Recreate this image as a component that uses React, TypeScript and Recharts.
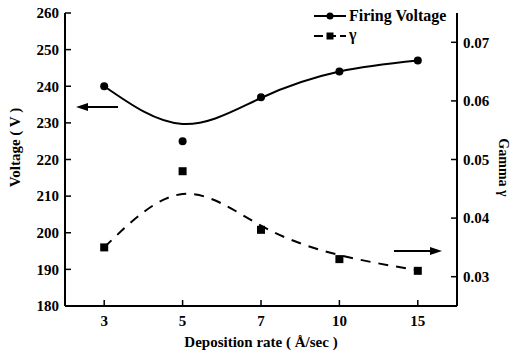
import { LineChart, Line, XAxis, YAxis, Legend } from 'recharts'

const categories = ['3', '5', '7', '10', '15']
const voltage = [240, 225, 237, 244, 247]
const voltageFit = [240, 229.7, 236.8, 244, 247]
const gamma = [0.035, 0.048, 0.038, 0.033, 0.031]
const gammaFit = [0.035, 0.0441, 0.0387, 0.0337, 0.0311]
const voltageTicks = [180, 190, 200, 210, 220, 230, 240, 250, 260]
const gammaTicks = [0.03, 0.04, 0.05, 0.06, 0.07]

const FONT = '"Liberation Serif", "Times New Roman", "DejaVu Serif", serif'

const data = categories.map((rate, i) => ({
  rate,
  voltage: voltage[i],
  voltageFit: voltageFit[i],
  gamma: gamma[i],
  gammaFit: gammaFit[i],
}))

const textStyle = { fontFamily: FONT, fontWeight: 700, fontSize: 15, fill: '#000' }

function LeftTick({ x, y, payload }: any) {
  return (
    <g>
      <line x1={x} x2={x + 6} y1={y} y2={y} stroke="#000" strokeWidth={1.5} />
      <text x={x - 6} y={y} dy="0.35em" textAnchor="end" style={textStyle}>{payload.value}</text>
    </g>
  )
}

function RightTick({ x, y, payload }: any) {
  return (
    <g>
      <line x1={x} x2={x - 6} y1={y} y2={y} stroke="#000" strokeWidth={1.5} />
      <text x={x + 6} y={y} dy="0.35em" textAnchor="start" style={textStyle}>
        {Number(payload.value).toFixed(2)}
      </text>
    </g>
  )
}

function BottomTick({ x, y, payload }: any) {
  return (
    <g>
      <line x1={x} x2={x} y1={y} y2={y - 6} stroke="#000" strokeWidth={1.5} />
      <text x={x} y={y + 20} textAnchor="middle" style={textStyle}>{payload.value}</text>
    </g>
  )
}

function SquareDot({ cx, cy, index }: any) {
  return <rect key={`sq-${index}`} x={cx - 4} y={cy - 4} width={8} height={8} fill="#000" />
}

// legend drawn by hand: solid line + circle, dashed line + square
function LegendBox() {
  return (
    <svg width={145} height={42} style={{ display: 'block' }}>
      <line x1={2} x2={34} y1={10} y2={10} stroke="#000" strokeWidth={2} />
      <circle cx={18} cy={10} r={3.5} fill="#000" />
      <text x={37} y={15} style={{ ...textStyle, fontSize: 16 }}>Firing Voltage</text>
      <line x1={2} x2={34} y1={30} y2={30} stroke="#000" strokeWidth={2} strokeDasharray="9 4" />
      <rect x={14.5} y={26.5} width={7} height={7} fill="#000" />
      <text x={37} y={34} style={{ ...textStyle, fontSize: 16 }}>γ</text>
    </svg>
  )
}

export default function App() {
  return (
    <div style={{ position: 'absolute', left: 0, top: 0, width: 513, height: 357, background: '#fff', fontFamily: FONT }}>
      <LineChart width={513} height={357} data={data} margin={{ top: 13, right: 0, left: 0, bottom: 0 }}>
        <XAxis
          dataKey="rate"
          scale="band"
          height={51}
          interval={0}
          tickSize={0}
          tickMargin={0}
          tickLine={false}
          tick={<BottomTick />}
          axisLine={{ stroke: '#000', strokeWidth: 2 }}
          label={{ value: 'Deposition rate ( Å/sec )', position: 'center', dy: 10, style: textStyle }}
        />
        <XAxis
          xAxisId="top"
          dataKey="rate"
          scale="band"
          orientation="top"
          height={0}
          tick={false}
          tickLine={false}
          axisLine={{ stroke: '#000', strokeWidth: 2 }}
        />
        <YAxis
          yAxisId="left"
          width={65}
          domain={[180, 260]}
          ticks={voltageTicks}
          interval={0}
          tickSize={0}
          tickMargin={0}
          tickLine={false}
          tick={<LeftTick />}
          axisLine={{ stroke: '#000', strokeWidth: 2 }}
          label={{ value: 'Voltage ( V )', angle: -90, position: 'center', dx: -18, dy: -12, style: textStyle }}
        />
        <YAxis
          yAxisId="right"
          orientation="right"
          width={56}
          domain={[0.025, 0.075]}
          ticks={gammaTicks}
          interval={0}
          tickSize={0}
          tickMargin={0}
          tickLine={false}
          tick={<RightTick />}
          axisLine={{ stroke: '#000', strokeWidth: 2 }}
          label={{ value: 'Gamma γ', angle: 90, position: 'center', dx: 19, dy: 8, style: { ...textStyle, fontSize: 14 } }}
        />
        <Legend
          layout="horizontal"
          verticalAlign="middle"
          align="center"
          content={<LegendBox />}
          wrapperStyle={{ top: 6, left: 312, width: 145 }}
        />
        <Line
          yAxisId="left"
          type="natural"
          dataKey="voltageFit"
          stroke="#000"
          strokeWidth={2}
          dot={false}
          isAnimationActive={false}
        />
        <Line
          yAxisId="left"
          dataKey="voltage"
          stroke="none"
          dot={{ r: 4, fill: '#000', stroke: '#000', strokeWidth: 0 }}
          isAnimationActive={false}
        />
        <Line
          yAxisId="right"
          type="natural"
          dataKey="gammaFit"
          stroke="#000"
          strokeWidth={2}
          strokeDasharray="10 8"
          dot={false}
          isAnimationActive={false}
        />
        <Line
          yAxisId="right"
          dataKey="gamma"
          stroke="none"
          dot={<SquareDot />}
          isAnimationActive={false}
        />
      </LineChart>
      <svg width={513} height={357} style={{ position: 'absolute', left: 0, top: 0, pointerEvents: 'none' }}>
        <line x1={118} x2={86} y1={107} y2={107} stroke="#000" strokeWidth={2} />
        <polygon points="76,107 88,103 88,111" fill="#000" />
        <line x1={394} x2={430} y1={251} y2={251} stroke="#000" strokeWidth={2} />
        <polygon points="442,251 430,247 430,255" fill="#000" />
      </svg>
    </div>
  )
}
